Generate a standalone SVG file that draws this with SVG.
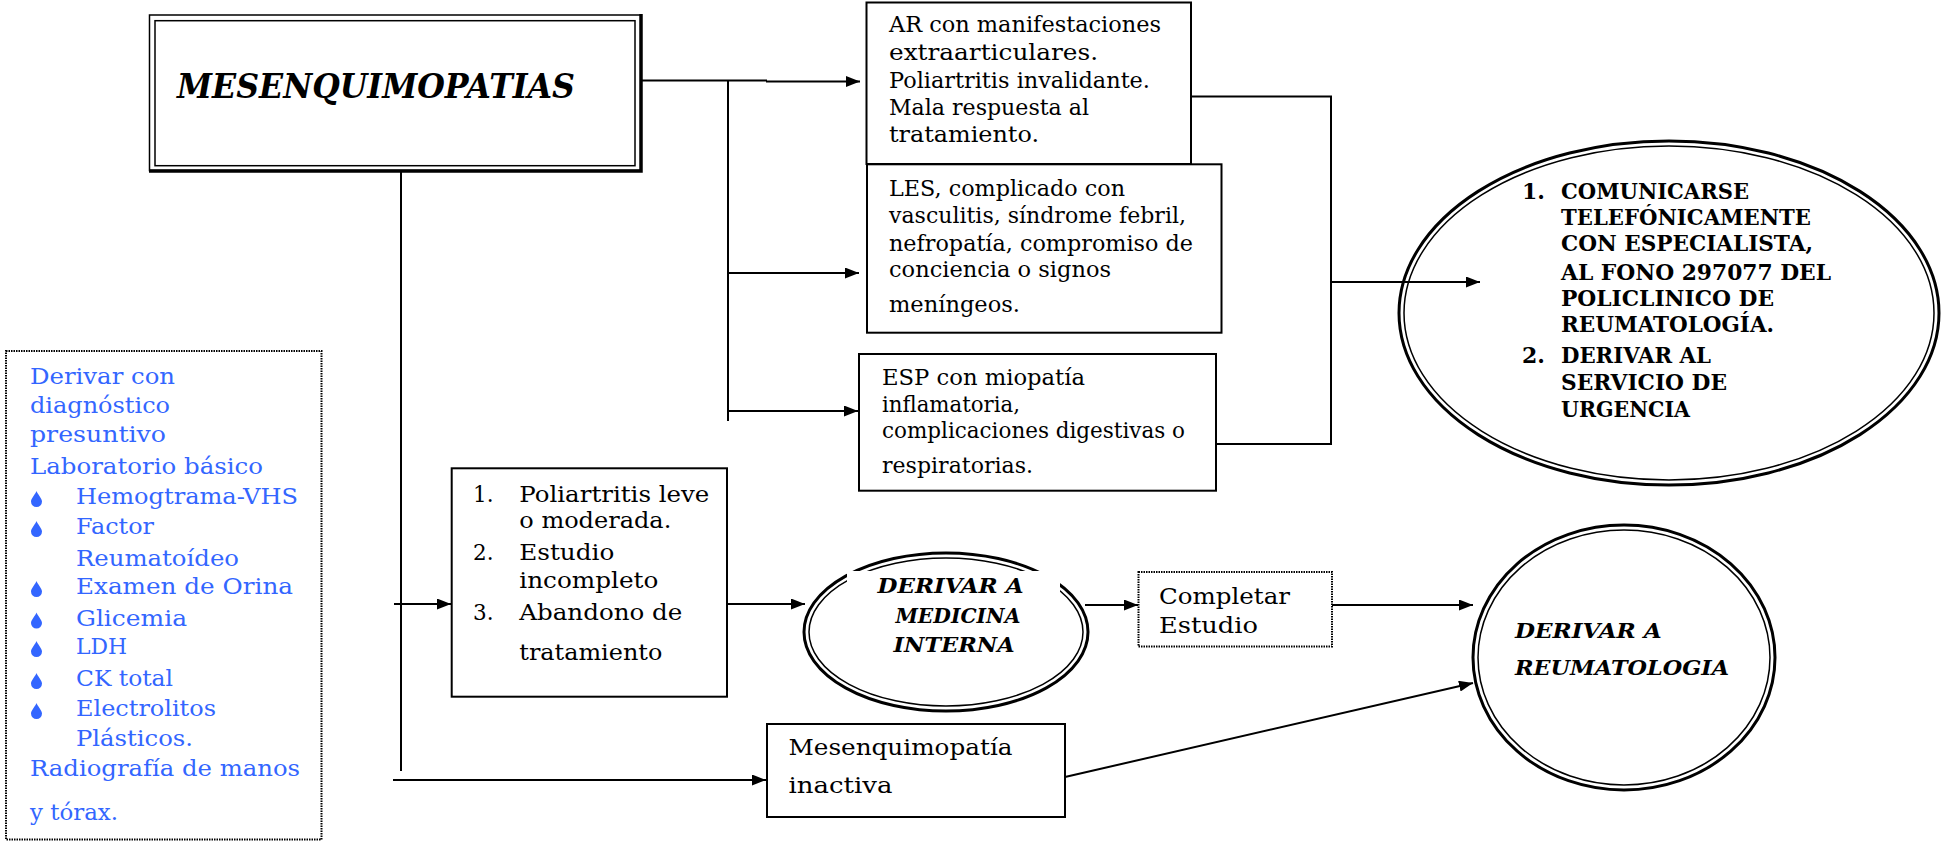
<svg xmlns="http://www.w3.org/2000/svg" width="1944" height="844" viewBox="0 0 1944 844">
<defs>
<style>
.t{font-family:"DejaVu Serif","Liberation Serif",serif;font-size:21.5px;fill:#000}
.b{font-family:"DejaVu Serif","Liberation Serif",serif;font-size:22px;font-weight:bold;fill:#000}
.bi{font-family:"DejaVu Serif","Liberation Serif",serif;font-weight:bold;font-style:italic;fill:#000;font-size:20px}
.bl{font-family:"DejaVu Serif","Liberation Serif",serif;font-size:21.5px;fill:#3366ff}
.box{fill:#fff;stroke:#000;stroke-width:2}
.dot{fill:#fff;stroke:#000;stroke-width:2;stroke-dasharray:1.5 1}
.ln{fill:none;stroke:#000;stroke-width:2}
.arr{fill:none;stroke:#000;stroke-width:2;marker-end:url(#ah)}
.eo{fill:none;stroke:#000;stroke-width:3}
.ei{fill:none;stroke:#000;stroke-width:1.5}
</style>
<marker id="ah" markerWidth="15" markerHeight="11" refX="14" refY="5.5" orient="auto" markerUnits="userSpaceOnUse">
<path d="M0,0 L14,5.5 L0,11 z" fill="#000"/>
</marker>
<path id="drop" d="M0,-13 C-1,-10 -5.5,-5.5 -5.5,-2.5 A5.5,5.5 0 0 0 5.5,-2.5 C5.5,-5.5 1,-10 0,-13 Z" fill="#3366ff"/>
</defs>

<g id="connectors">
<line class="ln" x1="637" y1="80.5" x2="767" y2="80.5"/>
<line class="arr" x1="766" y1="81.5" x2="860" y2="81.5"/>
<line class="ln" x1="728" y1="80.5" x2="728" y2="421"/>
<line class="arr" x1="728" y1="273" x2="859" y2="273"/>
<line class="arr" x1="728" y1="411" x2="858" y2="411"/>
<polyline class="ln" points="1191,96.5 1331,96.5 1331,444 1216,444"/>
<line class="arr" x1="1331" y1="282" x2="1480" y2="282"/>
<line class="ln" x1="401" y1="164" x2="401" y2="771"/>
<line class="arr" x1="394" y1="604" x2="451" y2="604"/>
<line class="arr" x1="711" y1="604" x2="805" y2="604"/>
<line class="arr" x1="1085" y1="605" x2="1138" y2="605"/>
<line class="arr" x1="1332" y1="605" x2="1473" y2="605"/>
<line class="arr" x1="393" y1="780" x2="766" y2="780"/>
<line class="arr" x1="1065" y1="777" x2="1473" y2="683"/>
</g>

<g id="main">
<rect x="149.5" y="15" width="491.5" height="155.5" fill="#fff" stroke="#000" stroke-width="1.5"/>
<polyline points="641,14 641,171 149,171" fill="none" stroke="#000" stroke-width="3.5"/>
<rect x="155" y="20.7" width="480" height="145" fill="none" stroke="#000" stroke-width="1.5"/>
<text class="bi" x="177" y="98" style="font-size:34px" textLength="398" lengthAdjust="spacingAndGlyphs">MESENQUIMOPATIAS</text>
</g>

<g id="ar">
<rect class="box" x="866.5" y="2.5" width="324.5" height="161.5"/>
<text class="t" x="889" y="32.3" textLength="272" lengthAdjust="spacingAndGlyphs">AR con manifestaciones</text>
<text class="t" x="889" y="60" textLength="209" lengthAdjust="spacingAndGlyphs">extraarticulares.</text>
<text class="t" x="889" y="88" textLength="261" lengthAdjust="spacingAndGlyphs">Poliartritis invalidante.</text>
<text class="t" x="889" y="115" textLength="200" lengthAdjust="spacingAndGlyphs">Mala respuesta al</text>
<text class="t" x="889" y="141.7" textLength="150" lengthAdjust="spacingAndGlyphs">tratamiento.</text>
</g>

<g id="les">
<rect class="box" x="867" y="164.3" width="354.5" height="168.4"/>
<text class="t" x="889" y="196" textLength="236" lengthAdjust="spacingAndGlyphs">LES, complicado con</text>
<text class="t" x="889" y="223" textLength="297" lengthAdjust="spacingAndGlyphs">vasculitis, síndrome febril,</text>
<text class="t" x="889" y="250.5" textLength="304" lengthAdjust="spacingAndGlyphs">nefropatía, compromiso de</text>
<text class="t" x="889" y="277" textLength="222" lengthAdjust="spacingAndGlyphs">conciencia o signos</text>
<text class="t" x="889" y="311.5" textLength="131" lengthAdjust="spacingAndGlyphs">meníngeos.</text>
</g>

<g id="esp">
<rect class="box" x="859" y="354" width="357" height="136.7"/>
<text class="t" x="882" y="385" textLength="203" lengthAdjust="spacingAndGlyphs">ESP con miopatía</text>
<text class="t" x="882" y="411.7" textLength="138" lengthAdjust="spacingAndGlyphs">inflamatoria,</text>
<text class="t" x="882" y="438.3" textLength="303" lengthAdjust="spacingAndGlyphs">complicaciones digestivas o</text>
<text class="t" x="882" y="472.7" textLength="151" lengthAdjust="spacingAndGlyphs">respiratorias.</text>
</g>

<g id="urgencia">
<ellipse class="eo" cx="1669" cy="313" rx="270" ry="172"/>
<ellipse class="ei" cx="1669" cy="313" rx="265" ry="167"/>
<text class="b" x="1522" y="199.3">1.</text>
<text class="b" x="1561" y="199.3" textLength="188" lengthAdjust="spacingAndGlyphs">COMUNICARSE</text>
<text class="b" x="1561" y="225" textLength="250" lengthAdjust="spacingAndGlyphs">TELEFÓNICAMENTE</text>
<text class="b" x="1561" y="250.7" textLength="252" lengthAdjust="spacingAndGlyphs">CON ESPECIALISTA,</text>
<text class="b" x="1561" y="280" textLength="270" lengthAdjust="spacingAndGlyphs">AL FONO 297077 DEL</text>
<text class="b" x="1561" y="305.7" textLength="213" lengthAdjust="spacingAndGlyphs">POLICLINICO DE</text>
<text class="b" x="1561" y="332.3" textLength="213" lengthAdjust="spacingAndGlyphs">REUMATOLOGÍA.</text>
<text class="b" x="1522" y="363.3">2.</text>
<text class="b" x="1561" y="363.3" textLength="150" lengthAdjust="spacingAndGlyphs">DERIVAR AL</text>
<text class="b" x="1561" y="390" textLength="166" lengthAdjust="spacingAndGlyphs">SERVICIO DE</text>
<text class="b" x="1561" y="416.7" textLength="129" lengthAdjust="spacingAndGlyphs">URGENCIA</text>
</g>

<g id="laboratorio">
<rect class="dot" x="6" y="351" width="315.5" height="488.5"/>
<text class="bl" x="30" y="384" textLength="145" lengthAdjust="spacingAndGlyphs">Derivar con</text>
<text class="bl" x="30" y="412.5" textLength="140" lengthAdjust="spacingAndGlyphs">diagnóstico</text>
<text class="bl" x="30" y="441.5" textLength="136" lengthAdjust="spacingAndGlyphs">presuntivo</text>
<text class="bl" x="30" y="474" textLength="233" lengthAdjust="spacingAndGlyphs">Laboratorio básico</text>
<use href="#drop" x="36.5" y="504"/>
<text class="bl" x="76" y="504" textLength="222" lengthAdjust="spacingAndGlyphs">Hemogtrama-VHS</text>
<use href="#drop" x="36.5" y="534"/>
<text class="bl" x="76" y="534" textLength="78" lengthAdjust="spacingAndGlyphs">Factor</text>
<text class="bl" x="76" y="566" textLength="163" lengthAdjust="spacingAndGlyphs">Reumatoídeo</text>
<use href="#drop" x="36.5" y="594"/>
<text class="bl" x="76" y="594" textLength="217" lengthAdjust="spacingAndGlyphs">Examen de Orina</text>
<use href="#drop" x="36.5" y="625.5"/>
<text class="bl" x="76" y="625.5" textLength="111" lengthAdjust="spacingAndGlyphs">Glicemia</text>
<use href="#drop" x="36.5" y="654"/>
<text class="bl" x="76" y="654" textLength="51" lengthAdjust="spacingAndGlyphs">LDH</text>
<use href="#drop" x="36.5" y="686"/>
<text class="bl" x="76" y="686" textLength="97" lengthAdjust="spacingAndGlyphs">CK total</text>
<use href="#drop" x="36.5" y="716"/>
<text class="bl" x="76" y="716" textLength="140" lengthAdjust="spacingAndGlyphs">Electrolitos</text>
<text class="bl" x="76" y="746" textLength="117" lengthAdjust="spacingAndGlyphs">Plásticos.</text>
<text class="bl" x="30" y="776" textLength="270" lengthAdjust="spacingAndGlyphs">Radiografía de manos</text>
<text class="bl" x="30" y="820" textLength="88" lengthAdjust="spacingAndGlyphs">y tórax.</text>
</g>

<g id="poliartritis">
<rect class="box" x="451.7" y="468.3" width="275.3" height="228.4"/>
<text class="t" x="473" y="501.7">1.</text>
<text class="t" x="519.3" y="501.7" textLength="190" lengthAdjust="spacingAndGlyphs">Poliartritis leve</text>
<text class="t" x="519.3" y="528.3" textLength="152" lengthAdjust="spacingAndGlyphs">o moderada.</text>
<text class="t" x="473" y="560">2.</text>
<text class="t" x="519.3" y="560" textLength="95" lengthAdjust="spacingAndGlyphs">Estudio</text>
<text class="t" x="519.3" y="588.3" textLength="139" lengthAdjust="spacingAndGlyphs">incompleto</text>
<text class="t" x="473" y="620">3.</text>
<text class="t" x="519.3" y="620" textLength="163" lengthAdjust="spacingAndGlyphs">Abandono de</text>
<text class="t" x="519.3" y="660" textLength="143" lengthAdjust="spacingAndGlyphs">tratamiento</text>
</g>

<g id="medicina-interna">
<ellipse class="eo" cx="946" cy="632" rx="142" ry="79"/>
<ellipse class="ei" cx="946" cy="632" rx="137" ry="74"/>
<rect x="847" y="571" width="213" height="50" fill="#fff"/>
<text class="bi" x="877.5" y="593.3" textLength="146" lengthAdjust="spacingAndGlyphs">DERIVAR A</text>
<text class="bi" x="895.4" y="623.3" textLength="125" lengthAdjust="spacingAndGlyphs">MEDICINA</text>
<text class="bi" x="893.6" y="651.7" textLength="121" lengthAdjust="spacingAndGlyphs">INTERNA</text>
</g>

<g id="completar">
<rect class="dot" x="1138.5" y="572" width="193.5" height="74.5"/>
<text class="t" x="1159" y="604" textLength="131" lengthAdjust="spacingAndGlyphs">Completar</text>
<text class="t" x="1159" y="633" textLength="99" lengthAdjust="spacingAndGlyphs">Estudio</text>
</g>

<g id="reumatologia">
<ellipse class="eo" cx="1624" cy="657.5" rx="151" ry="132.5"/>
<ellipse class="ei" cx="1624" cy="657.5" rx="146" ry="127.5"/>
<text class="bi" x="1515" y="638.3" textLength="146.7" lengthAdjust="spacingAndGlyphs">DERIVAR A</text>
<text class="bi" x="1515" y="675" textLength="214" lengthAdjust="spacingAndGlyphs">REUMATOLOGIA</text>
</g>

<g id="inactiva">
<rect class="box" x="767" y="724" width="298" height="93"/>
<text class="t" x="788.5" y="755" textLength="224" lengthAdjust="spacingAndGlyphs">Mesenquimopatía</text>
<text class="t" x="788.5" y="793" textLength="104" lengthAdjust="spacingAndGlyphs">inactiva</text>
</g>
</svg>
